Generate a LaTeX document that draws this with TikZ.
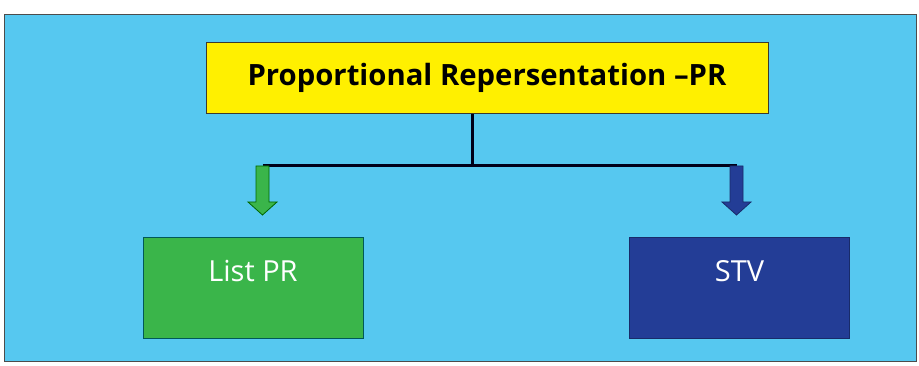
\documentclass[tikz,border=0pt]{standalone}
\usepackage{fontspec}
\setmainfont{Open Sans}
\usepackage{tikz}
\usetikzlibrary{positioning}
\definecolor{PanelBlue}{RGB}{86,200,240}
\definecolor{RootYellow}{RGB}{255,240,0}
\definecolor{ListGreen}{RGB}{58,181,74}
\definecolor{StvBlue}{RGB}{35,61,150}
\tikzstyle{Frame}=[draw=black!70, fill=PanelBlue, line width=0.8pt]
\tikzstyle{RootNode}=[rectangle, draw=black!75!olive, fill=RootYellow, line width=1pt, minimum width=562pt, inner sep=0pt, text height=43pt, text depth=28pt, font=\bfseries\fontsize{29.3}{31}\selectfont]
\tikzstyle{LeafNode}=[rectangle, line width=1pt, minimum width=220pt, inner sep=0pt, text height=44pt, text depth=56pt, text=white, font=\fontsize{29}{31}\selectfont]
\tikzstyle{Trunk}=[draw=black!90!blue, line width=3pt]
\tikzstyle{BlockArrow}=[line width=0.8pt]

\begin{document}
\begin{tikzpicture}[x=1pt, y=-1pt]
    \fill[white] (0,0) rectangle (919,366);
    \draw[Frame] (4.5,14.5) rectangle (916,361.5);

    \node (root) [RootNode] at (487,78.5) {Proportional Repersentation --PR};
    \node (listpr) [LeafNode, draw=teal!70!black, fill=ListGreen, below=123pt of root, xshift=-234pt] {List PR};
    \node (stv) [LeafNode, draw=StvBlue!70!black, fill=StvBlue, below=123pt of root, xshift=252.5pt] {STV};

    \coordinate (hub) at (472.5,166);
    \coordinate (garrow) at (262.5,166);
    \coordinate (barrow) at (736.5,166);

    \draw[Trunk] (hub |- root.south) -- (hub);
    \draw[Trunk] (garrow) -- (barrow);
    \draw[BlockArrow, draw=green!40!black, fill=ListGreen] ([xshift=-6.5pt]garrow) -- ++(13,0) -- ++(0,36) -- ++(8,0) -- ++(-14.5,13) -- ++(-14.5,-13) -- ++(8,0) -- cycle;
    \draw[BlockArrow, draw=StvBlue!70!black, fill=StvBlue] ([xshift=-6.5pt]barrow) -- ++(13,0) -- ++(0,36) -- ++(8,0) -- ++(-14.5,13) -- ++(-14.5,-13) -- ++(8,0) -- cycle;
\end{tikzpicture}
\end{document}
